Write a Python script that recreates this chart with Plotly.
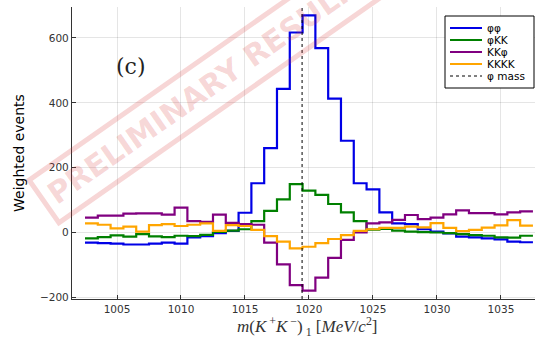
import plotly.graph_objects as go

# Invariant-mass bins (1 MeV wide), bin centres in MeV/c^2
mass_bins = list(range(1003, 1038))

# Weighted event counts per bin
phiphi = [-31, -33, -34, -37, -37, -34, -31, -34, -15, -11,
          -2, 5, 61, 152, 260, 443, 617, 670, 569, 413,
          283, 152, 133, 62, 28, 26, 10, 3, -3, -13,
          -15, -18, -21, -28, -30]
phikk = [-18, -14, -9, -13, -5, -12, -14, -10, -11, -7,
         2, 6, 10, 35, 67, 102, 149, 129, 116, 88,
         62, 35, 9, 11, 6, 3, 1, 0, -2, -5,
         -8, -10, -15, -16, -10]
kkphi = [46, 52, 52, 58, 59, 59, 55, 77, 35, 33,
         55, 30, 26, 24, -31, -98, -162, -179, -139, -78,
         -23, 0, 28, 31, 39, 54, 41, 46, 56, 68,
         60, 60, 56, 62, 65]
kkkk = [28, 24, 13, 18, 3, 23, 26, 20, 24, 28,
        5, 23, 20, 8, -11, -28, -49, -44, -33, -20,
        -8, 5, 10, 14, 14, 18, 16, 29, 14, 4,
        8, 15, 22, 38, 21]

phi_mass = 1019.461
bin_width = 1.0

series_names = ["φφ", "φKK", "KKφ", "KKKK"]
series_values = [phiphi, phikk, kkphi, kkkk]
series_colors = ["#0000E6", "#008000", "#800080", "#FFA500"]
mass_label = "φ mass"

x_ticks = [1005, 1010, 1015, 1020, 1025, 1030, 1035]
y_ticks = [-200, 0, 200, 400, 600]

# Figure geometry (pixels)
FIG_W, FIG_H = 535, 340
M_L, M_R, M_T, M_B = 72, 0, 7, 41
PLOT_W = FIG_W - M_L - M_R
PLOT_H = FIG_H - M_T - M_B


def paper_x(px):
    return (px - M_L) / PLOT_W


def paper_y(py):
    return 1 - (py - M_T) / PLOT_H


edges = [c - bin_width / 2 for c in mass_bins] + [mass_bins[-1] + bin_width / 2]

fig = go.Figure()
for name, vals, col in zip(series_names, series_values, series_colors):
    fig.add_trace(go.Scatter(
        x=edges, y=list(vals) + [vals[-1]],
        mode="lines", line=dict(color=col, width=2.2, shape="hv"),
        name=name, showlegend=False, hoverinfo="skip",
    ))

tick_font = dict(family="DejaVu Sans", size=10.5, color="#333333")
axis_common = dict(
    showgrid=True, gridcolor="rgba(0,0,0,0.10)", gridwidth=1,
    showline=True, linecolor="#333333", linewidth=1.2,
    ticks="inside", ticklen=4, tickcolor="#333333", tickwidth=1,
    tickfont=tick_font, zeroline=False, mirror=False,
)

fig.update_layout(
    width=FIG_W, height=FIG_H,
    margin=dict(l=M_L, r=M_R, t=M_T, b=M_B, pad=0),
    paper_bgcolor="white", plot_bgcolor="white",
    showlegend=False,
    xaxis=dict(range=[1001.484, 1037.66], tickvals=x_ticks, **axis_common),
    yaxis=dict(range=[-205.1, 695.6], tickvals=y_ticks, **axis_common),
)

shapes = []
# Nominal phi mass
shapes.append(dict(type="line", xref="x", yref="paper", x0=phi_mass, x1=phi_mass,
                   y0=0, y1=1, line=dict(color="black", width=1, dash="dot")))

# Legend frame and entries
shapes.append(dict(type="rect", xref="paper", yref="paper",
                   x0=paper_x(445), x1=paper_x(534), y0=paper_y(88), y1=paper_y(16),
                   line=dict(color="black", width=1), fillcolor="white"))
rows = [28, 40, 52, 64, 76]
annotations = []
for i, (name, col) in enumerate(zip(series_names, series_colors)):
    shapes.append(dict(type="line", xref="paper", yref="paper",
                       x0=paper_x(450), x1=paper_x(482),
                       y0=paper_y(rows[i]), y1=paper_y(rows[i]),
                       line=dict(color=col, width=2)))
    annotations.append(dict(text=name, xref="paper", yref="paper",
                            x=paper_x(485), y=paper_y(rows[i]),
                            xanchor="left", yanchor="middle", showarrow=False,
                            font=dict(family="DejaVu Sans", size=10.5, color="black")))
shapes.append(dict(type="line", xref="paper", yref="paper",
                   x0=paper_x(450), x1=paper_x(482),
                   y0=paper_y(rows[4]), y1=paper_y(rows[4]),
                   line=dict(color="black", width=1, dash="dot")))
annotations.append(dict(text=mass_label, xref="paper", yref="paper",
                        x=paper_x(485), y=paper_y(rows[4]),
                        xanchor="left", yanchor="middle", showarrow=False,
                        font=dict(family="DejaVu Sans", size=10.5, color="black")))

# Axis titles
annotations.append(dict(text="Weighted events", xref="paper", yref="paper",
                        x=paper_x(19), y=paper_y(153), textangle=-90,
                        xanchor="center", yanchor="middle", showarrow=False,
                        font=dict(family="DejaVu Sans", size=14, color="black")))
annotations.append(dict(
    text="<i>m</i>(<i>K</i><sup> +</sup><i>K</i><sup> −</sup>)<sub> 1</sub> "
         "[<i>MeV</i>/<i>c</i><sup>2</sup>]",
    xref="paper", yref="paper", x=paper_x(307), y=paper_y(326),
    xanchor="center", yanchor="middle", showarrow=False,
    font=dict(family="Liberation Serif", size=17, color="#333333")))

# Panel label
annotations.append(dict(text="(c)", xref="paper", yref="paper",
                        x=paper_x(131), y=paper_y(67),
                        xanchor="center", yanchor="middle", showarrow=False,
                        font=dict(family="DejaVu Serif", size=22, color="#222222")))

# Stamp
annotations.append(dict(text="<b>PRELIMINARY RESULTS</b>", xref="paper", yref="paper",
                        x=paper_x(208), y=paper_y(86), textangle=-35,
                        xanchor="center", yanchor="middle", showarrow=False,
                        font=dict(family="DejaVu Sans", size=30,
                                  color="rgba(215,50,50,0.2)"),
                        bordercolor="rgba(215,50,50,0.2)", borderwidth=5,
                        borderpad=6))

fig.update_layout(shapes=shapes, annotations=annotations)
fig.write_html("out.html")
